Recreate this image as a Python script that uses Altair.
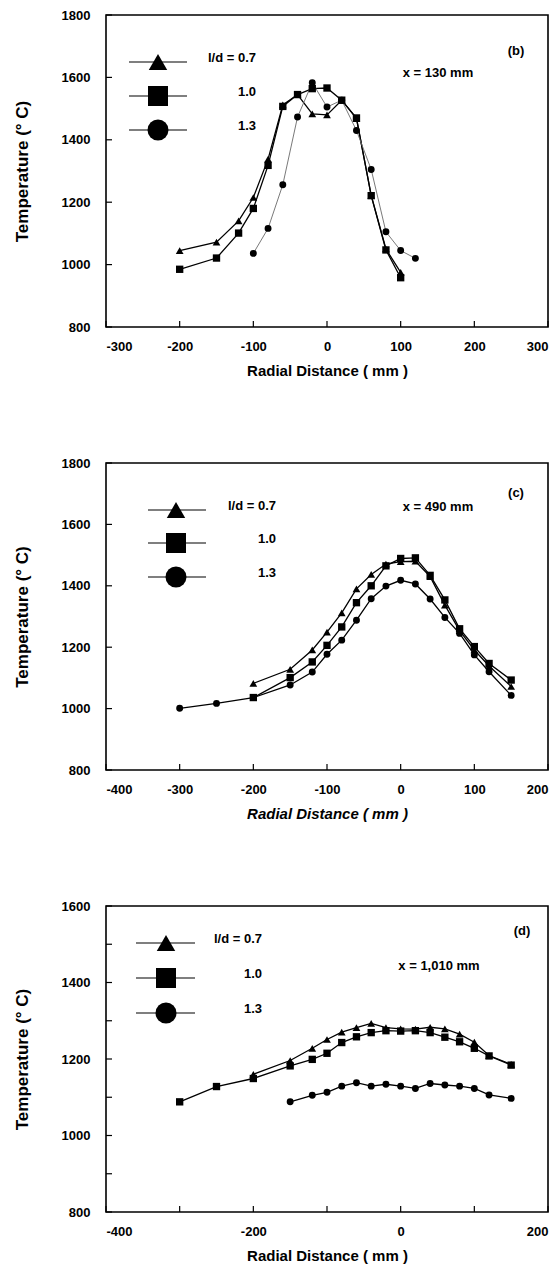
import altair as alt
import pandas as pd

SERIES = ["0.7", "1.0", "1.3"]
SHAPES = ["triangle-up", "square", "circle"]
LEGEND_LABELS = ["l/d = 0.7", "1.0", "1.3"]

# ---------------- Panel (b): x = 130 mm ----------------
b_x_07 = [-200, -150, -120, -100, -80, -60, -40, -20, 0, 20, 40, 60, 80, 100]
b_T_07 = [1045, 1072, 1140, 1215, 1338, 1512, 1545, 1483, 1480, 1527, 1468, 1222, 1050, 975]
b_x_10 = [-200, -150, -120, -100, -80, -60, -40, -20, 0, 20, 40, 60, 80, 100]
b_T_10 = [985, 1021, 1101, 1180, 1318, 1507, 1545, 1564, 1566, 1527, 1470, 1221, 1047, 958]
b_x_13 = [-100, -80, -60, -40, -20, 0, 20, 40, 60, 80, 100, 120]
b_T_13 = [1036, 1116, 1256, 1473, 1583, 1505, 1527, 1430, 1305, 1105, 1045, 1020]

# ---------------- Panel (c): x = 490 mm ----------------
c_x_07 = [-200, -150, -120, -100, -80, -60, -40, -20, 0, 20, 40, 60, 80, 100, 120, 150]
c_T_07 = [1082, 1128, 1191, 1249, 1312, 1390, 1437, 1471, 1479, 1480, 1430, 1337, 1254, 1191, 1139, 1072]
c_x_10 = [-200, -150, -120, -100, -80, -60, -40, -20, 0, 20, 40, 60, 80, 100, 120, 150]
c_T_10 = [1036, 1101, 1152, 1206, 1266, 1345, 1400, 1465, 1489, 1491, 1434, 1354, 1260, 1202, 1147, 1093]
c_x_13 = [-300, -250, -200, -150, -120, -100, -80, -60, -40, -20, 0, 20, 40, 60, 80, 100, 120, 150]
c_T_13 = [1001, 1017, 1036, 1077, 1119, 1177, 1223, 1288, 1358, 1399, 1418, 1406, 1357, 1297, 1245, 1175, 1120, 1043]

# ---------------- Panel (d): x = 1,010 mm ----------------
d_x_07 = [-200, -150, -120, -100, -80, -60, -40, -20, 0, 20, 40, 60, 80, 100, 120, 150]
d_T_07 = [1160, 1196, 1228, 1251, 1270, 1282, 1293, 1282, 1279, 1278, 1283, 1279, 1265, 1244, 1209, 1186]
d_x_10 = [-300, -250, -200, -150, -120, -100, -80, -60, -40, -20, 0, 20, 40, 60, 80, 100, 120, 150]
d_T_10 = [1088, 1128, 1149, 1182, 1199, 1215, 1243, 1258, 1269, 1274, 1273, 1274, 1269, 1257, 1245, 1228, 1208, 1184]
d_x_13 = [-150, -120, -100, -80, -60, -40, -20, 0, 20, 40, 60, 80, 100, 120, 150]
d_T_13 = [1088, 1105, 1113, 1129, 1138, 1129, 1134, 1129, 1123, 1136, 1132, 1129, 1123, 1106, 1097]

FONT = "Liberation Sans"


def make_df(xs_list, ts_list):
    rows = []
    for s, xs, ts in zip(SERIES, xs_list, ts_list):
        for x, t in zip(xs, ts):
            rows.append({"r": x, "T": t, "s": s})
    return pd.DataFrame(rows)


def panel(df, xdom, ydom, xticks, xlabels, yticks, ylabels, W, H, tag, xlabel_text,
          leg, tag_pos, xlab_pos, italic=False, gray13=False):
    xscale = alt.Scale(domain=xdom, nice=False, zero=False)
    yscale = alt.Scale(domain=ydom, nice=False, zero=False)
    xaxis = alt.Axis(values=xlabels, title="Radial Distance ( mm )",
                     labelExpr="toString(datum.value)",
                     titleFontStyle="italic" if italic else "normal")
    yaxis = alt.Axis(values=ylabels, title="Temperature  (° C)",
                     labelExpr="toString(datum.value)")

    base = alt.Chart(df)
    layers = []
    for s in SERIES:
        sub = df[df["s"] == s]
        col = "#6a6a6a" if (gray13 and s == "1.3") else "black"
        sw = 0.9 if (gray13 and s == "1.3") else 1.3
        layers.append(
            alt.Chart(sub).mark_line(color=col, strokeWidth=sw).encode(
                x=alt.X("r:Q", scale=xscale, axis=xaxis),
                y=alt.Y("T:Q", scale=yscale, axis=yaxis),
                order="r:Q",
            )
        )
    pts = base.mark_point(filled=True, opacity=1, color="black").encode(
        x=alt.X("r:Q", scale=xscale, axis=xaxis),
        y=alt.Y("T:Q", scale=yscale, axis=yaxis),
        shape=alt.Shape("s:N", scale=alt.Scale(domain=SERIES, range=SHAPES), legend=None),
        size=alt.Size("s:N", scale=alt.Scale(domain=SERIES, range=[60, 48, 62]), legend=None),
    )
    layers.append(pts)

    # inward tick marks
    xt = pd.DataFrame({"r": xticks})
    yt = pd.DataFrame({"T": yticks})
    layers.append(
        alt.Chart(xt).mark_rule(color="black", strokeWidth=1.2).encode(
            x=alt.X("r:Q", scale=xscale, axis=xaxis),
            y=alt.value(H), y2=alt.value(H - 6),
        )
    )
    layers.append(
        alt.Chart(yt).mark_rule(color="black", strokeWidth=1.2).encode(
            y=alt.Y("T:Q", scale=yscale, axis=yaxis),
            x=alt.value(0), x2=alt.value(6),
        )
    )

    # in-plot legend
    one = pd.DataFrame({"k": [0]})
    lx0, lx1, lmx, ltx, rows = leg
    leg_sizes = [340, 400, 440]
    for i, s in enumerate(SERIES):
        yy = rows[i]
        layers.append(alt.Chart(one).mark_rule(color="black", strokeWidth=1.2).encode(
            x=alt.value(lx0), x2=alt.value(lx1), y=alt.value(yy)))
        layers.append(alt.Chart(one).mark_point(filled=True, opacity=1, color="black").encode(
            x=alt.value(lmx), y=alt.value(yy), shape=alt.value(SHAPES[i]),
            size=alt.value(leg_sizes[i])))
        layers.append(alt.Chart(one).mark_text(
            align="right", baseline="middle", font=FONT, fontWeight="bold", fontSize=13,
            color="black").encode(
            x=alt.value(ltx), y=alt.value(yy - 4), text=alt.value(LEGEND_LABELS[i])))

    layers.append(alt.Chart(one).mark_text(
        align="center", baseline="middle", font=FONT, fontWeight="bold", fontSize=13,
        color="black").encode(x=alt.value(tag_pos[0]), y=alt.value(tag_pos[1]),
                              text=alt.value(tag)))
    layers.append(alt.Chart(one).mark_text(
        align="center", baseline="middle", font=FONT, fontWeight="bold", fontSize=13,
        color="black").encode(x=alt.value(xlab_pos[0]), y=alt.value(xlab_pos[1]),
                              text=alt.value(xlabel_text)))

    return alt.layer(*layers).properties(width=W, height=H)


df_b = make_df([b_x_07, b_x_10, b_x_13], [b_T_07, b_T_10, b_T_13])
df_c = make_df([c_x_07, c_x_10, c_x_13], [c_T_07, c_T_10, c_T_13])
df_d = make_df([d_x_07, d_x_10, d_x_13], [d_T_07, d_T_10, d_T_13])

pb = panel(df_b, [-300, 300], [800, 1800],
           [-300, -200, -100, 0, 100, 200, 300], [-300, -200, -100, 0, 100, 200, 300],
           [800, 1000, 1200, 1400, 1600, 1800], [800, 1000, 1200, 1400, 1600, 1800],
           442, 312, "(b)", "x = 130 mm",
           (23, 81, 52, 150, [47, 81, 115]), (410, 36), (332, 58), gray13=True)
pc = panel(df_c, [-400, 200], [800, 1800],
           [-400, -300, -200, -100, 0, 100, 200], [-400, -300, -200, -100, 0, 100, 200],
           [800, 1000, 1200, 1400, 1600, 1800], [800, 1000, 1200, 1400, 1600, 1800],
           442, 307, "(c)", "x = 490 mm",
           (42, 100, 70, 170, [47, 80, 114]), (410, 30), (332, 44), italic=True)
pd_ = panel(df_d, [-400, 200], [800, 1600],
            [-400, -300, -200, -100, 0, 100, 200], [-400, -200, 0, 200],
            [800, 900, 1000, 1100, 1200, 1300, 1400, 1500, 1600], [800, 1000, 1200, 1400, 1600],
            442, 306, "(d)", "x = 1,010 mm",
            (30, 89, 60, 156, [37, 72, 107]), (416, 25), (333, 60))

chart = alt.vconcat(pb, pc, pd_, spacing=77).properties(
    padding={"left": 4, "top": 0, "right": 0, "bottom": 0}
).configure_view(
    stroke="black", strokeWidth=1.6
).configure_axis(
    grid=False, domain=False, ticks=False,
    labelFont=FONT, labelFontWeight="bold", labelFontSize=13, labelColor="black",
    labelPadding=14,
    titleFont=FONT, titleFontWeight="bold", titleColor="black",
).configure_axisX(
    titleFontSize=15, titlePadding=10, labelPadding=13,
).configure_axisY(
    titleFontSize=17, titlePadding=30, labelPadding=16,
)

chart.save("out.html", embed_options={"renderer": "svg", "actions": False})
